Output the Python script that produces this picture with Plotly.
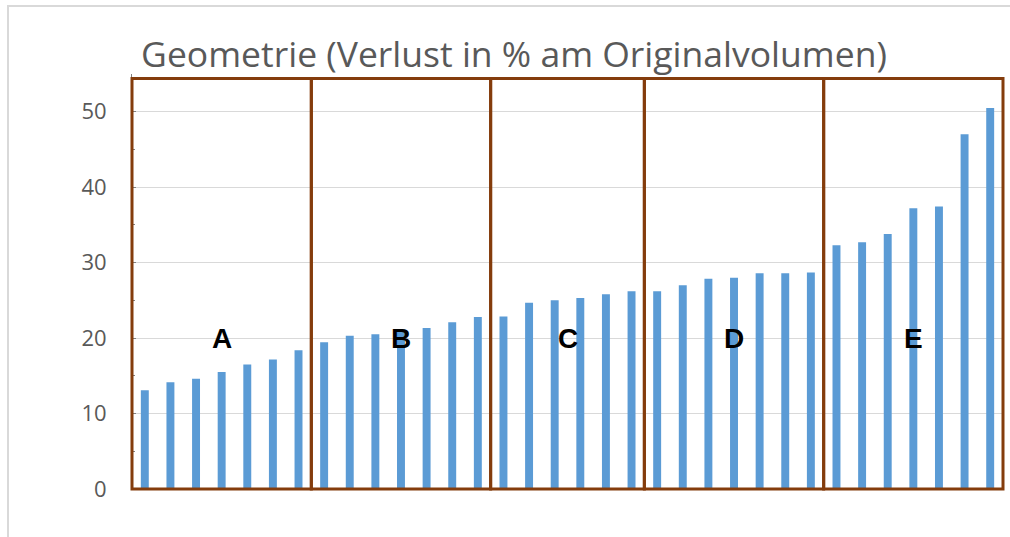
import plotly.graph_objects as go

title_text = "Geometrie (Verlust in % am Originalvolumen)"
group_labels = ["A", "B", "C", "D", "E"]
group_a = [13.1, 14.15, 14.6, 15.5, 16.5, 17.15, 18.4]
group_b = [19.45, 20.3, 20.5, 21.0, 21.35, 22.1, 22.8]
group_c = [22.85, 24.7, 25.0, 25.3, 25.8, 26.2]
group_d = [26.2, 27.0, 27.85, 28.0, 28.6, 28.6, 28.7]
group_e = [32.3, 32.7, 33.8, 37.2, 37.45, 47.0, 50.5]
y_ticks = [0, 10, 20, 30, 40, 50]
label_level = 20

groups = [group_a, group_b, group_c, group_d, group_e]
values = [v for g in groups for v in g]
xs = list(range(len(values)))
n = len(values)
Y_MAX = 55
BOX_TOP = 54.4

BROWN = "#843C0C"
fig = go.Figure()
fig.add_trace(go.Bar(x=xs, y=values, marker=dict(color="#5B9BD5", line=dict(width=0)),
                     showlegend=False))

shapes = []
annotations = []
start = 0
for lab, g in zip(group_labels, groups):
    end = start + len(g)
    shapes.append(dict(type="rect", xref="paper", yref="paper", x0=start / n, x1=end / n,
                       y0=0, y1=BOX_TOP / Y_MAX,
                       line=dict(color=BROWN, width=3), fillcolor="rgba(0,0,0,0)", layer="above"))
    annotations.append(dict(x=(start + end) / 2 - 0.5, y=label_level, xref="x", yref="y", text=lab,
                            showarrow=False, yanchor="middle",
                            font=dict(family="Liberation Sans", size=28, color="black", weight="bold")))
    start = end

# chart-area border (page px: left 8, top 6)
shapes.append(dict(type="rect", xref="paper", yref="paper", x0=-124 / 871, x1=1.03,
                   y0=-0.2, y1=(415 + 68) / 415,
                   line=dict(color="#D9D9D9", width=2), fillcolor="rgba(0,0,0,0)", layer="below"))

fig.update_layout(
    width=1010, height=537,
    margin=dict(l=132, r=7, t=74, b=48, autoexpand=False),
    paper_bgcolor="white", plot_bgcolor="white",
    bargap=0.69,
    title=dict(text=title_text, x=(514 - 132) / 871, xref="paper", y=1 - 55 / 537, yref="container",
               yanchor="middle", xanchor="center",
               font=dict(family="Open Sans", size=35.5, color="#595959")),
    shapes=shapes, annotations=annotations,
    xaxis=dict(range=[-0.5, n - 0.5], showticklabels=False, showgrid=False,
               zeroline=False, ticks="", automargin=False),
    yaxis=dict(range=[0, Y_MAX], tickvals=y_ticks, showgrid=True, gridcolor="#D9D9D9", gridwidth=1,
               zeroline=False, showline=True, linecolor="#7F7F7F", ticks="inside", ticklen=4,
               tickcolor="#7F7F7F", ticklabelstandoff=20, automargin=False,
               minor=dict(dtick=5, ticks="inside", ticklen=3, tickcolor="#7F7F7F", showgrid=False),
               tickfont=dict(family="Open Sans", size=22, color="#595959")),
)
fig.write_html("out.html", config={"displayModeBar": False},
               post_script="document.body.style.margin='0';document.body.style.overflow='hidden';"
                           "document.documentElement.style.overflow='hidden';")
